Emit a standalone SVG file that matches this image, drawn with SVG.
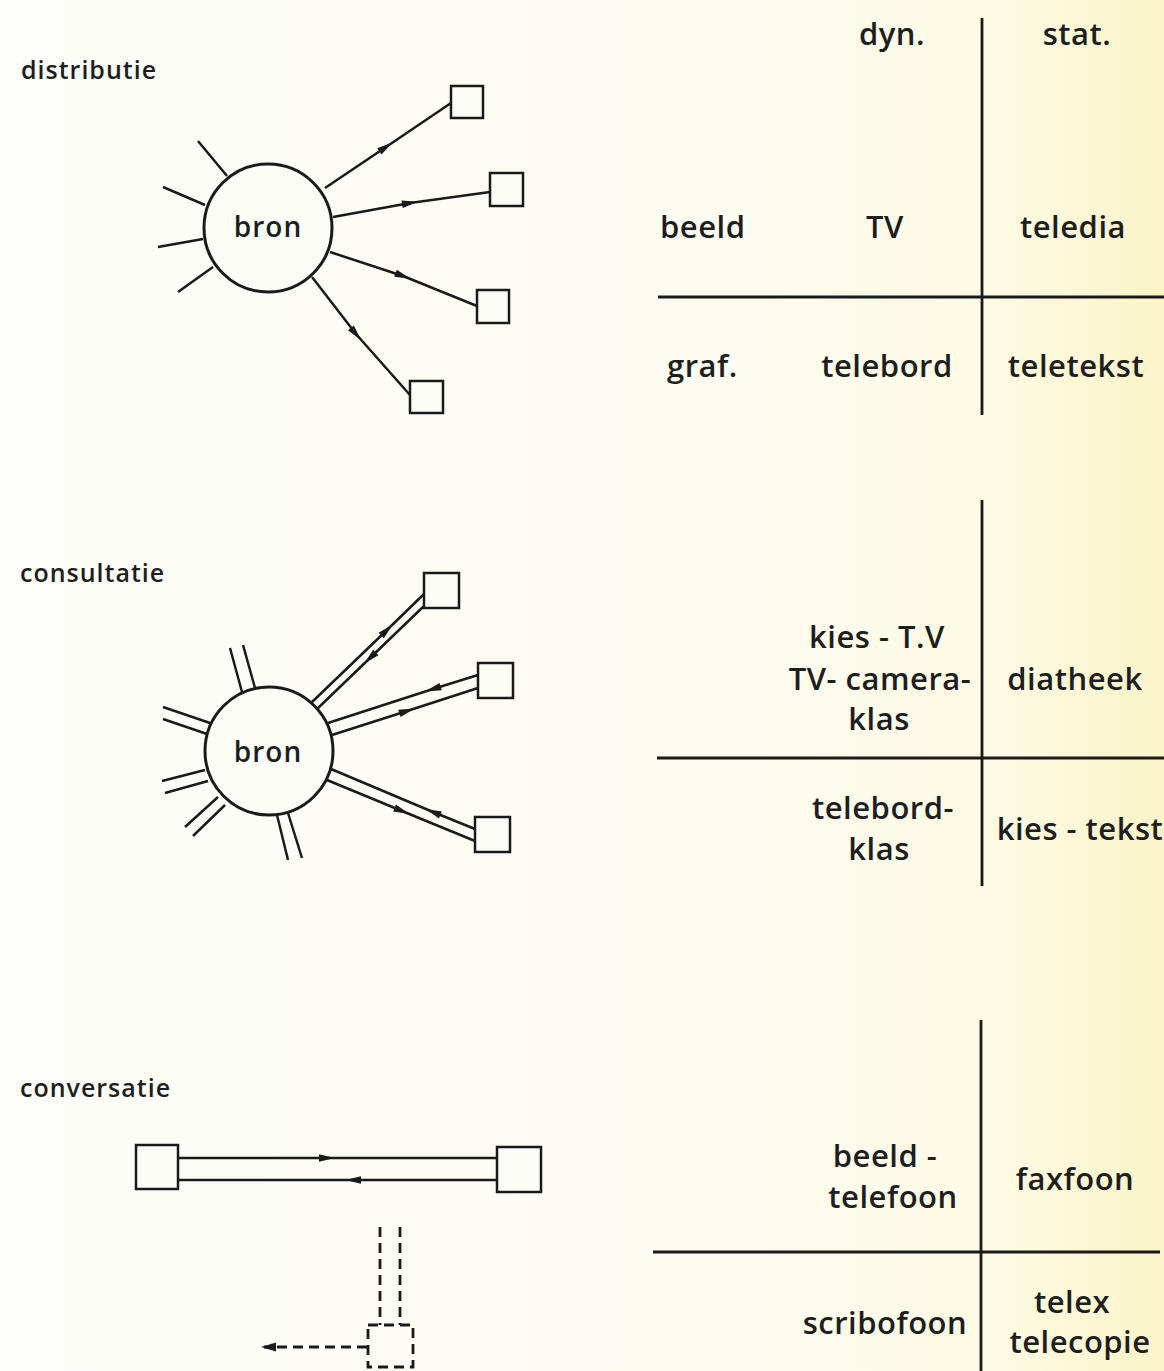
<svg xmlns="http://www.w3.org/2000/svg" width="1164" height="1371" viewBox="0 0 1164 1371">
<defs>
<linearGradient id="bg" x1="0" y1="0" x2="1" y2="0">
<stop offset="0" stop-color="#fdfdf9"/>
<stop offset="0.6" stop-color="#fdfcf3"/>
<stop offset="0.86" stop-color="#fcfae2"/>
<stop offset="1" stop-color="#fbf4c8"/>
</linearGradient>
<marker id="ah" markerUnits="userSpaceOnUse" markerWidth="30" markerHeight="30" viewBox="-15 -15 30 30" refX="0" refY="0" orient="auto" overflow="visible">
<path d="M8,0 L-8,-3.8 L-8,3.8 Z" fill="#1a1a1a"/>
</marker>
<marker id="ahend" markerUnits="userSpaceOnUse" markerWidth="30" markerHeight="30" viewBox="-15 -15 30 30" refX="0" refY="0" orient="auto" overflow="visible">
<path d="M3,0 L-12,-4.5 L-12,4.5 Z" fill="#1a1a1a"/>
</marker>
</defs>
<style>
.ln{stroke:#1a1a1a;stroke-width:2.5;fill:none;stroke-linecap:butt}
.ar{stroke:#1a1a1a;stroke-width:2.5;fill:none;marker-mid:url(#ah)}
.box{stroke:#1a1a1a;stroke-width:2.5;fill:#fdfdf8}
.circ{stroke:#1a1a1a;stroke-width:3;fill:#fdfdf8}
.dash{stroke:#1a1a1a;stroke-width:2.8;fill:none;stroke-dasharray:10 6}
.tbl{stroke:#1a1a1a;stroke-width:2.8;fill:none}
.lbl{font-family:"Open Sans","Noto Sans","DejaVu Sans",sans-serif;font-size:25px;font-weight:600;fill:#1e1e1e;letter-spacing:1px}
.t{font-family:"Open Sans","Noto Sans","DejaVu Sans",sans-serif;font-size:31px;font-weight:600;fill:#1e1e1e;letter-spacing:0.5px}
.c{text-anchor:middle}
</style>
<rect x="0" y="0" width="1164" height="1371" fill="url(#bg)"/>

<!-- labels -->
<text class="lbl" x="21" y="79">distributie</text>
<text class="lbl" x="20" y="582">consultatie</text>
<text class="lbl" x="20" y="1097">conversatie</text>

<!-- connectors -->
<g id="connectors">
<!-- distributie -->
<polyline class="ar" points="325,188 386,147 451,103"/>
<polyline class="ar" points="333,217 410,203 490,192"/>
<polyline class="ar" points="330,252 403,276 477,306"/>
<polyline class="ar" points="312,277 356,334 410,395"/>
<line class="ln" x1="198" y1="141" x2="227" y2="176"/>
<line class="ln" x1="163" y1="187" x2="205" y2="205"/>
<line class="ln" x1="158" y1="247" x2="203" y2="239"/>
<line class="ln" x1="178" y1="292" x2="213" y2="267"/>
<!-- consultatie -->
<polyline class="ar" points="311,703 387,630 424,594"/>
<polyline class="ar" points="424,606 370,658 317,709"/>
<polyline class="ar" points="478,675 433,689 328,723"/>
<polyline class="ar" points="332,735 407,711 478,688"/>
<polyline class="ar" points="475,829 433,812 331,769"/>
<polyline class="ar" points="327,780 402,811 475,841"/>
<line class="ln" x1="230" y1="648" x2="242" y2="692"/>
<line class="ln" x1="243" y1="645" x2="255" y2="688"/>
<line class="ln" x1="163" y1="707" x2="210" y2="723"/>
<line class="ln" x1="163" y1="719" x2="207" y2="734"/>
<line class="ln" x1="162" y1="781" x2="205" y2="770"/>
<line class="ln" x1="165" y1="793" x2="208" y2="781"/>
<line class="ln" x1="185" y1="827" x2="218" y2="797"/>
<line class="ln" x1="193" y1="836" x2="225" y2="805"/>
<line class="ln" x1="277" y1="815" x2="288" y2="860"/>
<line class="ln" x1="288" y1="813" x2="302" y2="858"/>
<!-- conversatie -->
<polyline class="ar" points="178,1158 327,1158 497,1158"/>
<polyline class="ar" points="497,1180 353,1180 178,1180"/>
<line class="dash" x1="380" y1="1227" x2="380" y2="1325"/>
<line class="dash" x1="400" y1="1227" x2="400" y2="1325"/>
<line class="dash" x1="367" y1="1347" x2="264" y2="1347" style="marker-end:url(#ahend)"/>
</g>

<!-- distributie nodes -->
<g id="dist-bron">
<circle class="circ" cx="268" cy="228" r="64"/>
<text class="lbl c" x="268" y="237" style="font-size:28px">bron</text>
</g>
<g id="dist-r1"><rect class="box" x="451" y="86" width="32" height="32"/></g>
<g id="dist-r2"><rect class="box" x="490" y="173" width="33" height="33"/></g>
<g id="dist-r3"><rect class="box" x="477" y="290" width="32" height="33"/></g>
<g id="dist-r4"><rect class="box" x="410" y="381" width="33" height="32"/></g>

<!-- consultatie nodes -->
<g id="cons-bron">
<circle class="circ" cx="269" cy="751" r="64"/>
<text class="lbl c" x="268" y="762" style="font-size:28px">bron</text>
</g>
<g id="cons-r1"><rect class="box" x="424" y="573" width="35" height="35"/></g>
<g id="cons-r2"><rect class="box" x="478" y="663" width="35" height="35"/></g>
<g id="cons-r3"><rect class="box" x="475" y="817" width="35" height="35"/></g>

<!-- conversatie nodes -->
<g id="conv-a"><rect class="box" x="136" y="1145" width="42" height="44"/></g>
<g id="conv-b"><rect class="box" x="497" y="1147" width="44" height="45"/></g>
<g id="conv-c"><rect class="dash" x="368" y="1325" width="45" height="42"/></g>

<!-- table 1 -->
<g id="table1">
<line class="tbl" x1="982" y1="18" x2="982" y2="415"/>
<line class="tbl" x1="658" y1="297" x2="1164" y2="297"/>
<text class="t c" x="892" y="45">dyn.</text>
<text class="t c" x="1077" y="45">stat.</text>
<text class="t" x="660" y="238">beeld</text>
<text class="t c" x="885" y="238">TV</text>
<text class="t c" x="1073" y="238">teledia</text>
<text class="t" x="667" y="377">graf.</text>
<text class="t c" x="887" y="377">telebord</text>
<text class="t c" x="1076" y="377">teletekst</text>
</g>

<!-- table 2 -->
<g id="table2">
<line class="tbl" x1="982" y1="500" x2="982" y2="886"/>
<line class="tbl" x1="657" y1="758" x2="1164" y2="758"/>
<text class="t c" x="877" y="648">kies - T.V</text>
<text class="t c" x="880" y="690">TV- camera-</text>
<text class="t c" x="879" y="730">klas</text>
<text class="t c" x="1075" y="690">diatheek</text>
<text class="t c" x="883" y="819">telebord-</text>
<text class="t c" x="879" y="860">klas</text>
<text class="t c" x="1080" y="840">kies - tekst</text>
</g>

<!-- table 3 -->
<g id="table3">
<line class="tbl" x1="981" y1="1020" x2="981" y2="1371"/>
<line class="tbl" x1="653" y1="1252" x2="1160" y2="1252"/>
<text class="t c" x="885" y="1167">beeld -</text>
<text class="t c" x="893" y="1208">telefoon</text>
<text class="t c" x="1075" y="1190">faxfoon</text>
<text class="t c" x="885" y="1334">scribofoon</text>
<text class="t c" x="1072" y="1313">telex</text>
<text class="t c" x="1080" y="1353">telecopie</text>
</g>
</svg>
